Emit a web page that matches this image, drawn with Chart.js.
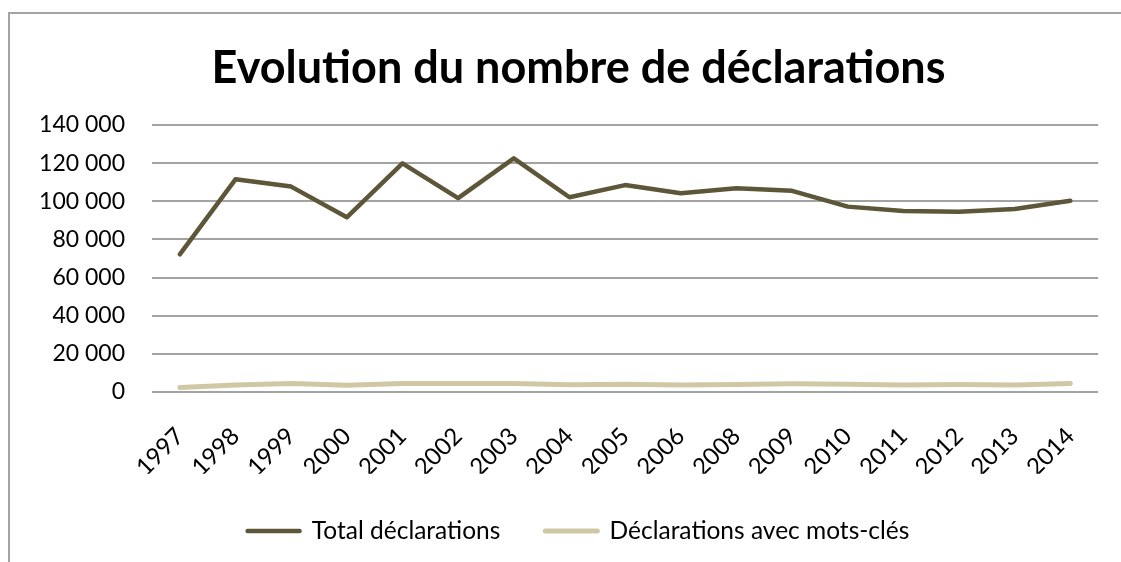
<!DOCTYPE html>
<html>
<head>
<meta charset="utf-8">
<script src="https://cdn.jsdelivr.net/npm/chart.js@4"></script>
<style>
  html, body { margin: 0; padding: 0; background: #fff; overflow: hidden; }
  #wrap { position: relative; width: 1121px; height: 562px; overflow: hidden; }
  #frame { position: absolute; left: 8px; top: 12px; width: 1300px; height: 800px;
           border-left: 2px solid #a3a3a3; border-top: 2px solid #a3a3a3; }
  canvas { position: absolute; left: 0; top: 0; }
</style>
</head>
<body>
<div id="wrap">
  <div id="frame"></div>
  <canvas id="c" width="1121" height="562"></canvas>
</div>
<script>
const years = ['1997','1998','1999','2000','2001','2002','2003','2004','2005','2006','2008','2009','2010','2011','2012','2013','2014'];
const totalDeclarations = [72200, 111500, 107700, 91600, 119900, 101700, 122500, 102100, 108500, 104200, 106800, 105500, 97200, 94900, 94500, 96000, 100300];
const keywordDeclarations = [2300, 3700, 4500, 3500, 4500, 4500, 4500, 3800, 4100, 3700, 3900, 4300, 4100, 3700, 3900, 3700, 4500];
const seriesNames = ['Total déclarations', 'Déclarations avec mots-clés'];
const titleText = 'Evolution du nombre de déclarations';
const yMin = 0, yMax = 140000, yStep = 20000;

function fmt(v) { return String(v).replace(/\B(?=(\d{3})+(?!\d))/g, ' '); }

const FONT = 'Lato';

// The framed chart is offset to the right: centre title and legend on the frame.
const shiftBoxes = {
  id: 'shiftBoxes',
  afterLayout(chart) {
    [chart.titleBlock, chart.legend].forEach(b => { if (b) { b.left += 46; } });
  }
};

new Chart(document.getElementById('c'), {
  type: 'line',
  data: {
    labels: years,
    datasets: [
      { label: seriesNames[0], data: totalDeclarations, borderColor: '#5e5638', backgroundColor: '#5e5638',
        borderWidth: 4.5, pointRadius: 0, borderCapStyle: 'round', borderJoinStyle: 'round', tension: 0 },
      { label: seriesNames[1], data: keywordDeclarations, borderColor: '#d0c8a5', backgroundColor: '#d0c8a5',
        borderWidth: 5, pointRadius: 0, borderCapStyle: 'round', borderJoinStyle: 'round', tension: 0 }
    ]
  },
  plugins: [shiftBoxes],
  options: {
    responsive: false,
    animation: false,
    events: [],
    layout: { padding: { top: 0, right: 10, bottom: 8.75, left: 0 } },
    plugins: {
      title: { display: true, text: titleText, color: '#000',
               font: { family: FONT, size: 45, weight: 'bold' }, padding: { top: 41, bottom: 30 } },
      legend: { position: 'bottom',
                labels: { color: '#000', font: { family: FONT, size: 24.5 }, boxWidth: 52, boxHeight: 0, padding: 45 } },
      tooltip: { enabled: false }
    },
    scales: {
      x: {
        offset: true,
        grid: { display: false, drawTicks: false, offset: true },
        border: { display: false },
        ticks: { color: '#000', font: { family: FONT, size: 24 }, minRotation: 45, maxRotation: 45,
                 autoSkip: false, padding: 30 },
        afterFit: (s) => { s.height = 81.75; }
      },
      y: {
        min: yMin, max: yMax,
        grid: { color: '#a3a3a3', lineWidth: 2, drawTicks: false },
        border: { display: false },
        ticks: { stepSize: yStep, color: '#000', font: { family: FONT, size: 23 }, padding: 27,
                 callback: (v) => fmt(v) },
        afterFit: (s) => { s.width = 152; }
      }
    }
  }
});
</script>
</body>
</html>
